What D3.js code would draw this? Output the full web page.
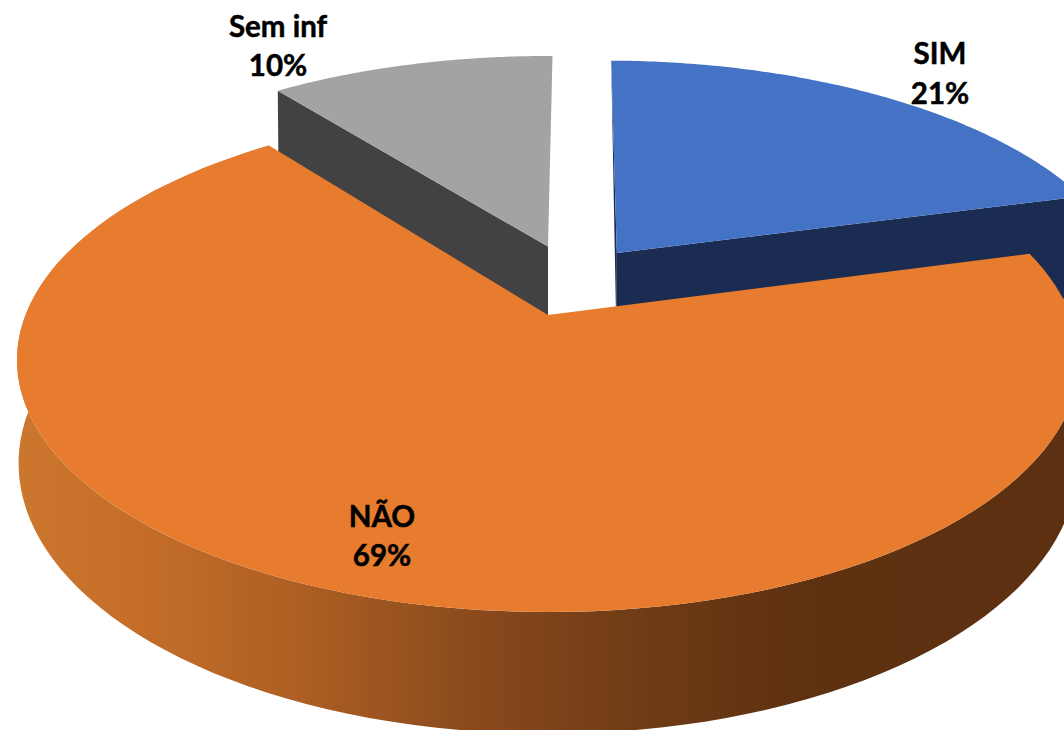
<!DOCTYPE html>
<html>
<head>
<meta charset="utf-8">
<script src="https://cdnjs.cloudflare.com/ajax/libs/d3/7.8.5/d3.min.js"></script>
<style>
    body { margin: 0; background: #fff; overflow: hidden; }
    svg { display: block; }
    .label { font-family: Lato, "Open Sans", sans-serif; font-weight: 700; font-size: 29.5px; fill: #000; stroke: #000; stroke-width: 0.5px; text-anchor: middle; }
</style>
</head>
<body>
<div id="chart"></div>
<script>
// Slice shares, printed labels are rounded by the source
const categories = ['SIM', 'NÃO', 'Sem inf'];
const shares = [20.6, 68.8, 10.6];
const percentLabels = ['21%', '69%', '10%'];

const topColors = ['#4472c4', '#e87c2e', '#a3a3a3'];
const wallColors = ['#1b2c52', '#5c3010', '#424242'];

// Label centres and baselines, one row per slice
const labelX = [940, 382, 278];
const labelY = [[64, 104], [527, 566], [37, 76]];

const width = 1064;
const height = 730;

// Pie disc -> screen perspective
const apex = { x: 548, y: 315 };
const persp = { A: 244, B: 522.5, k: -0.1786 };
const depth = 100;
const wallDepth = 110;
const bottomScale = 0.997;

// How far each slice is pulled out of the disc, and its radius
const explode = [{ u: 0.138, v: -0.266, r: 1.015 }, { u: 0, v: 0, r: 1 }, { u: 0, v: -0.295, r: 1.015 }];

function project(u, v, z = 0) {
    const den = 1 + persp.k * v;
    const s = z ? bottomScale : 1;
    return [apex.x + persp.B * u / den * s, apex.y + persp.A * v / den + z / den];
}

function rim(e, a, z) {
    return project(e.u + e.r * Math.sin(a), e.v - e.r * Math.cos(a), z);
}

const svg = d3.select('#chart').append('svg')
    .attr('width', width)
    .attr('height', height);

const pie = d3.pie()
    .sort(null)
    .startAngle(0.6 * Math.PI / 180)
    .endAngle((360 + 0.6) * Math.PI / 180);

const slices = pie(shares);
const line = d3.line();
const topColor = d3.scaleOrdinal().domain(categories).range(topColors);
const wallColor = d3.scaleOrdinal().domain(categories).range(wallColors);

// Shading along the orange side
const shade = svg.append('defs').append('linearGradient')
    .attr('id', 'side-shade')
    .attr('gradientUnits', 'userSpaceOnUse')
    .attr('x1', 17).attr('x2', 1064).attr('y1', 0).attr('y2', 0);
[[0, '#cc772e'], [0.12, '#c46d29'], [0.27, '#ad5f23'], [0.45, '#87481c'], [0.6, '#6f3b15'], [0.75, '#5e3111'], [1, '#5c3010']]
    .forEach(d => shade.append('stop').attr('offset', d[0]).attr('stop-color', d[1]));

function arcPoints(d, e, z) {
    return d3.range(0, 121).map(i => rim(e, d.startAngle + (d.endAngle - d.startAngle) * i / 120, z));
}

function topFace(d, e) {
    return line([project(e.u, e.v)].concat(arcPoints(d, e, 0))) + 'Z';
}

// Flat side of a pulled out slice, along the radius at angle a
function radialWall(e, a) {
    return line([project(e.u, e.v), rim(e, a, 0), rim(e, a, wallDepth), project(e.u, e.v, wallDepth)]) + 'Z';
}

function drawSlice(i) {
    const d = slices[i];
    const e = explode[i];
    const name = categories[i];
    if (name === 'Sem inf') {
        svg.append('path').attr('d', radialWall(e, d.startAngle)).attr('fill', wallColor(name));
    } else if (name === 'SIM') {
        svg.append('path').attr('d', radialWall(e, d.endAngle)).attr('fill', wallColor(name));
        // thin dark sliver along the left cut of the blue slice
        svg.append('path')
            .attr('d', line([project(e.u, e.v), project(e.u, e.v, depth), rim(e, d.startAngle, 0)]) + 'Z')
            .attr('fill', wallColor(name));
    } else {
        const side = arcPoints(d, e, 0).concat(arcPoints(d, e, depth).reverse());
        svg.append('path').attr('d', line(side) + 'Z').attr('fill', 'url(#side-shade)');
    }
    svg.append('path').attr('d', topFace(d, e)).attr('fill', topColor(name));
}

// Back slices first, the big one overlaps both
[2, 0, 1].forEach(drawSlice);

categories.forEach((name, i) => {
    svg.append('text').attr('class', 'label').attr('x', labelX[i]).attr('y', labelY[i][0]).text(name);
    svg.append('text').attr('class', 'label').attr('x', labelX[i]).attr('y', labelY[i][1]).text(percentLabels[i]);
});
</script>
</body>
</html>
